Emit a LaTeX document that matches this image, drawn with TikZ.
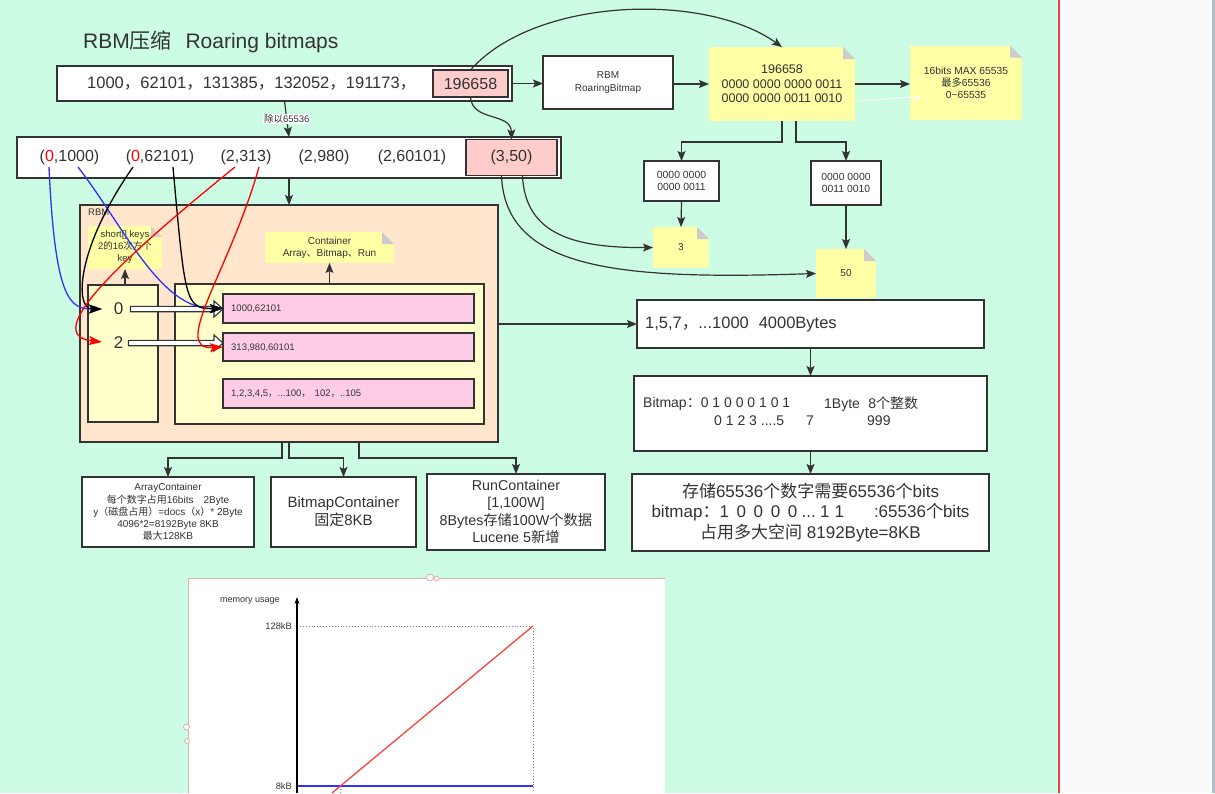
\documentclass[tikz,border=0pt]{standalone}
\usepackage{fontspec}
\setmainfont{Liberation Sans}
\newfontfamily\cjk{Noto Sans CJK SC}
\newcommand\zh[1]{{\cjk #1}}
\newcommand\fsz[2]{\fontsize{#1}{#2}\selectfont}
\usetikzlibrary{arrows.meta,calc}
\definecolor{bg}{HTML}{CCFCE4}
\definecolor{dk}{HTML}{333333}
\definecolor{ny}{HTML}{FFFFA6}
\definecolor{ly}{HTML}{FFFFCC}
\definecolor{pk}{HTML}{FFCCCC}
\definecolor{rowpk}{HTML}{FFCCE6}
\definecolor{peach}{HTML}{FFE6CC}
\definecolor{foldg}{HTML}{CCCCCC}
\definecolor{panel}{HTML}{FAFAFA}
\definecolor{strip}{HTML}{B4BCCC}
\definecolor{vline}{HTML}{E04848}
\definecolor{chb}{HTML}{D9AFAF}
\definecolor{cred}{HTML}{FF4040}
\definecolor{cblue}{HTML}{3030FF}
\newcommand\fold[3]{%
 \fill[#3] ($(#1.north east)+(-#2,0)$) -- (#1.north east) -- ($(#1.north east)+(0,#2)$) -- cycle;
 \fill[foldg] ($(#1.north east)+(-#2,0)$) -- ($(#1.north east)+(0,#2)$) -- ($(#1.north east)+(-#2,#2)$) -- cycle;}
\newcommand\hollowarr[2]{%
 \draw[hollow] ($(#1)+(0,-2.7)$) -- ($(#2)+(-9,-2.7)$) -- ($(#2)+(-9,-8)$) -- (#2) -- ($(#2)+(-9,8)$) -- ($(#2)+(-9,2.7)$) -- ($(#1)+(0,2.7)$) -- cycle;}
\tikzset{
 box/.style={draw=dk, line width=1.3pt, fill=white, inner sep=0pt, outer sep=0pt, text=dk, align=center},
 note/.style={fill=ny, inner sep=0pt, outer sep=0pt, text=dk, align=center},
 txt/.style={inner sep=0pt, text=dk},
 arr/.style={draw=dk, line width=1.2pt, -{Stealth[length=10pt,width=8pt,inset=2pt]}},
 cur/.style={line width=1.3pt, -{Stealth[length=13pt,width=9pt,inset=2.5pt]}},
 hollow/.style={draw=dk, line width=1.1pt, fill=white, line join=miter},
}
\begin{document}
\begin{tikzpicture}[x=1pt,y=-1pt]
\useasboundingbox (0,0) rectangle (1215,793);
% backgrounds
\fill[bg] (0,0) rectangle (1058,793);
\fill[panel] (1059,0) rectangle (1212,793);
\fill[strip] (1212,0) rectangle (1215,793);
\draw[vline, line width=2pt] (1058.5,0) -- (1058.5,793);

% title
\node[txt, anchor=west, font=\fsz{21}{25}] (title) at (83,42) {RBM\zh{压缩}\hspace{0.65em}Roaring bitmaps};

% first row
\node[box, minimum width=455pt, minimum height=35pt] (box1) at (284.5,83.5) {};
\node[txt, anchor=west, font=\fsz{16.5}{19}] (nums) at (87,84) {1000\zh{，}62101\zh{，}131385\zh{，}132052\zh{，}191173\zh{，}};
\node[box, fill=pk, minimum width=75pt, minimum height=27pt, font=\fsz{16}{19}] (p196) at (470.5,83.5) {196658};

\node[box, minimum width=130pt, minimum height=53pt, font=\fsz{10}{13}] (rbmrb) at (608,82.5) {RBM\\RoaringBitmap};

\node[note, minimum width=146pt, minimum height=74pt, font=\fsz{12.5}{14.5}] (note1) at (782,84) {196658\\0000 0000 0000 0011\\0000 0000 0011 0010};
\fold{note1}{12}{bg}
\node[note, minimum width=112pt, minimum height=74pt, font=\fsz{10.3}{12}] (note2) at (966,82.5) {16bits MAX 65535\\\zh{最多}65536\\0\textasciitilde65535};
\fold{note2}{12}{bg}

% second row
\node[box, minimum width=544pt, minimum height=41pt] (box2) at (289,157.5) {};
\node[txt, font=\fsz{16}{19}] (t1) at (69.5,157) {(\textcolor{red}{0},1000)};
\node[txt, font=\fsz{16}{19}] (t2) at (160,157) {(\textcolor{red}{0},62101)};
\node[txt, font=\fsz{16}{19}] (t3) at (246,157) {(2,313)};
\node[txt, font=\fsz{16}{19}] (t4) at (324,157) {(2,980)};
\node[txt, font=\fsz{16}{19}] (t5) at (412,157) {(2,60101)};
\node[box, fill=pk, minimum width=91pt, minimum height=36pt, font=\fsz{16}{19}] (p350) at (511.5,157.5) {(3,50)};

% RBM structure
\node[draw=dk, line width=1.3pt, fill=peach, minimum width=418pt, minimum height=237pt, inner sep=0pt, outer sep=0pt] (rbmbox) at (289,323.5) {};
\node[txt, anchor=west, font=\fsz{9.5}{11}] (rbmlbl) at (88,212) {RBM};
\node[note, minimum width=74pt, minimum height=43pt, font=\fsz{9.5}{12}] (keynote) at (125,247.5) {short[] keys\\2\zh{的}16\zh{次方个}\\key};
\fold{keynote}{11}{peach}
\node[note, minimum width=129pt, minimum height=31pt, font=\fsz{10}{12}] (contnote) at (329.5,247.5) {Container\\Array\zh{、}Bitmap\zh{、}Run};
\fold{contnote}{12}{peach}
\node[box, fill=ly, minimum width=70pt, minimum height=137pt] (keys) at (123,353.5) {};
\node[box, fill=ly, minimum width=309pt, minimum height=140pt] (cont) at (329.5,354) {};
\node[box, fill=rowpk, minimum width=251pt, minimum height=29pt] (row1) at (348.5,308.5) {};
\node[box, fill=rowpk, minimum width=251pt, minimum height=28pt] (row2) at (348.5,347) {};
\node[box, fill=rowpk, minimum width=251pt, minimum height=29pt] (row3) at (348.5,393.5) {};
\node[txt, anchor=west, font=\fsz{9.5}{11}] (r1t) at (231,309) {1000,62101};
\node[txt, anchor=west, font=\fsz{9.5}{11}] (r2t) at (231,347.5) {313,980,60101};
\node[txt, anchor=west, font=\fsz{9.5}{11}] (r3t) at (231,394) {1,2,3,4,5\zh{，}...100\zh{，}\hspace{0.4em}102\zh{，}..105};
\node[txt, font=\fsz{17}{20}] (key0) at (118.5,309) {0};
\node[txt, font=\fsz{17}{20}] (key2) at (118.5,343) {2};
\coordinate (h0s) at ($(key0.east)+(7,0)$);
\coordinate (h0e) at (key0.east -| row1.west);
\coordinate (h2s) at ($(key2.east)+(5,0)$);
\coordinate (h2e) at (key2.east -| row2.west);
\hollowarr{h0s}{h0e}
\hollowarr{h2s}{h2e}
\draw[arr] (keynote.south |- keys.north) -- (keynote.south);
\draw[arr] (contnote.south |- cont.north) -- (contnote.south);

% containers
\node[box, minimum width=172pt, minimum height=70pt, font=\fsz{10}{12.2}] (arrayc) at (168,512) {ArrayContainer\\\zh{每个数字占用}16bits\hspace{1em}2Byte\\y\zh{（磁盘占用）}=docs\zh{（}x\zh{）}* 2Byte\\4096*2=8192Byte 8KB\\\zh{最大}128KB};
\node[box, minimum width=145pt, minimum height=70pt, font=\fsz{15}{18}] (bitmapc) at (343.5,512) {BitmapContainer\\\zh{固定}8KB};
\node[box, minimum width=178pt, minimum height=76pt, font=\fsz{14.3}{17.5}] (runc) at (516,512) {RunContainer\\{[}1,100W{]}\\8Bytes\zh{存储}100W\zh{个数据}\\Lucene 5\zh{新增}};
\draw[arr] ($(rbmbox.south)+(-7,0)$) -- ++(0,16) -| (arrayc.north);
\draw[arr] (rbmbox.south) -- ++(0,16) -| (bitmapc.north);
\draw[arr] ($(rbmbox.south)+(70,0)$) -- ++(0,16) -| (runc.north);

% right tree
\node[box, minimum width=75pt, minimum height=40pt, font=\fsz{10.4}{12}] (bA) at (681.5,181) {0000 0000\\0000 0011};
\node[box, minimum width=70pt, minimum height=44pt, font=\fsz{10.4}{12}] (bB) at (846,183) {0000 0000\\0011 0010};
\node[note, minimum width=56pt, minimum height=41pt, font=\fsz{10}{12}] (note3) at (681,247.5) {3};
\fold{note3}{12}{bg}
\node[note, minimum width=60pt, minimum height=49pt, font=\fsz{10}{12}] (note50) at (846,273.5) {50};
\fold{note50}{12}{bg}
\draw[arr] (note1.south) -- ++(0,21) -| (bA.north);
\draw[arr] ($(note1.south)+(14,0)$) -- ++(0,21) -| (bB.north);
\draw[arr] (bA.south) -- (note3.north);
\draw[arr] (bB.south) -- (note50.north);

% right column
\node[box, minimum width=347pt, minimum height=48pt] (box157) at (810.5,324) {};
\node[txt, anchor=west, font=\fsz{16.5}{19}] (b157t) at (645,324) {1,5,7\zh{，}...1000\hspace{0.6em}4000Bytes};
\node[box, minimum width=353pt, minimum height=75pt] (bitmapbox) at (810.5,413.5) {};
\node[txt, anchor=west, font=\fsz{14}{16}] (bm1) at (643,404) {Bitmap\zh{：}0 1 0 0 0 1 0 1};
\node[txt, anchor=west, font=\fsz{14}{16}] (bm2) at (824,404) {1Byte\hspace{0.6em}8\zh{个整数}};
\node[txt, anchor=west, font=\fsz{14}{16}] (bm3) at (714,421) {0 1 2 3 ....5};
\node[txt, font=\fsz{14}{16}] (bm4) at (810,421) {7};
\node[txt, anchor=west, font=\fsz{14}{16}] (bm5) at (867,421) {999};
\node[box, minimum width=357pt, minimum height=77pt, font=\fsz{17}{20.8}] (box3) at (810.5,512.5) {\zh{存储}65536\zh{个数字需要}65536\zh{个}bits\\bitmap\zh{：}1\hspace{0.45em}0\hspace{0.45em}0\hspace{0.45em}0\hspace{0.45em}0\hspace{0.25em}...\hspace{0.25em}1\hspace{0.3em}1\hspace{1.76em}:65536\zh{个}bits\\\zh{占用多大空间} 8192Byte=8KB};
\draw[arr] (rbmbox.east |- box157.west) -- (box157.west);
\draw[arr] (box157.south) -- (bitmapbox.north);
\draw[arr] (bitmapbox.south) -- (box3.north);

% top connectors
\draw[arr] (box1.east) -- (box1.east -| rbmrb.west);
\draw[arr] (rbmrb.east |- note1.west) -- (note1.west);
\draw[arr] (note1.east) -- (note1.east -| note2.west);
\draw[white, line width=1pt] ($(note1.east)+(2,17)$) -- ($(note2.west)+(10,14)$) -- ($(note2.west)+(3,22)$);
\draw[arr] (p196.north) .. controls (535,-3) and (705,-8) .. (note1.north);
\draw[arr] (p196.south) .. controls (472,122) and (511,112) .. (p350.north);
\draw[arr] (box1.south) -- node[fill=white, inner sep=1pt, text=dk, font=\fsz{9.5}{11}] (divlbl) {\zh{除以}65536} (box2.north);
\draw[arr] (box2.south) -- (rbmbox.north);
\draw[arr] ($(p350.south)+(-10,0)$) .. controls (505,270) and (620,280) .. (note50.west);
\draw[arr] ($(p350.south)+(11,0)$) .. controls (525,235) and (575,248) .. (note3.west);

% curves from pairs to keys/containers
\coordinate (s1) at (49,167);
\coordinate (s2) at (78,167);
\coordinate (s3) at (133,167);
\coordinate (s4) at (173,167);
\coordinate (s5) at (235,167);
\coordinate (s6) at (259,167);
\coordinate (kin0) at (102,309);
\coordinate (kin2) at (102,342);
\draw[cur, draw=cblue] (s1) .. controls (55,300) and (70,309) .. (kin0);
\draw[cur, draw=cblue] (s2) .. controls (125,228) and (160,309) .. (row1.west);
\draw[cur, draw=black] (s3) .. controls (75,250) and (75,309) .. (kin0);
\draw[cur, draw=black] (s4) .. controls (185,300) and (185,309) .. (row1.west);
\draw[cur, draw=red] (s5) .. controls (120,260) and (40,335) .. (kin2);
\draw[cur, draw=red] (s6) .. controls (230,270) and (170,350) .. (row2.west);

% chart
\fill[white] (188,578) rectangle (665,793);
\draw[chb, line width=1pt] (188,793) -- (188,578) -- (665,578);
\draw[chb, fill=white, line width=0.8pt] (430,577.5) circle (3.5);
\draw[chb, fill=white, line width=0.8pt] (436.5,578.5) circle (2.5);
\draw[chb, fill=white, line width=0.8pt] (186.5,727) circle (3);
\draw[chb, fill=white, line width=0.8pt] (187,741) circle (2.5);
\node[txt, font=\fsz{9}{11}] (mu) at (250,601) {memory usage};
\node[txt, anchor=east, font=\fsz{9.3}{11}] (k128) at (292,626) {128kB};
\node[txt, anchor=east, font=\fsz{9.3}{11}] (k8) at (292,786) {8kB};
\draw[gray, dotted, line width=0.9pt] (297,626) -- (533,626) -- (533,793);
\draw[gray, dotted, line width=0.9pt] (340,786) -- (340,793);
\draw[cblue, line width=1.3pt] (297,786) -- (533,786);
\draw[cred, line width=1.3pt] (332,793) -- (533,626);
\draw[black, line width=1.1pt, -{Stealth[length=7pt,width=5pt]}] (297,793) -- (297,597);
\end{tikzpicture}
\end{document}
